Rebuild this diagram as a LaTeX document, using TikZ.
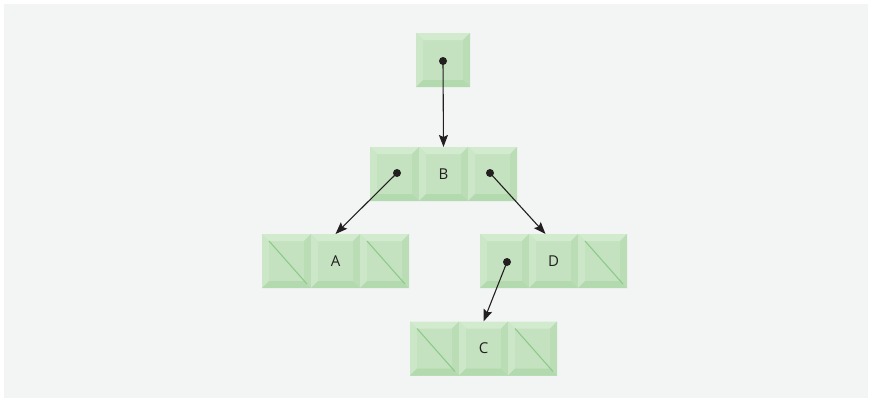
\documentclass[tikz,border=0pt]{standalone}
\usepackage{fontspec}
\setmainfont{Open Sans}
\usetikzlibrary{arrows.meta}
\definecolor{panel}{HTML}{F3F5F5}
\definecolor{face}{HTML}{C4E2BF}
\definecolor{bevtop}{HTML}{D2EBCE}
\definecolor{bevleft}{HTML}{CBE7C7}
\definecolor{bevright}{HTML}{BADDB5}
\definecolor{bevbot}{HTML}{B3D9AE}
\definecolor{diagc}{HTML}{8DCA89}
\definecolor{ink}{HTML}{231F20}
\tikzset{
  cellbox/.style={minimum width=49pt, minimum height=54pt, inner sep=0pt, outer sep=0pt,
    fill=face, font=\fontsize{15pt}{17pt}\selectfont, text=ink,
    path picture={
      \coordinate (NW) at (path picture bounding box.north west);
      \coordinate (NE) at (path picture bounding box.north east);
      \coordinate (SW) at (path picture bounding box.south west);
      \coordinate (SE) at (path picture bounding box.south east);
      \fill[bevtop] (NW) -- (NE) -- ([xshift=-7pt,yshift=-7pt]NE) -- ([xshift=7pt,yshift=-7pt]NW) -- cycle;
      \fill[bevleft] (NW) -- (SW) -- ([xshift=7pt,yshift=7pt]SW) -- ([xshift=7pt,yshift=-7pt]NW) -- cycle;
      \fill[bevright] (NE) -- (SE) -- ([xshift=-7pt,yshift=7pt]SE) -- ([xshift=-7pt,yshift=-7pt]NE) -- cycle;
      \fill[bevbot] (SW) -- (SE) -- ([xshift=-7pt,yshift=7pt]SE) -- ([xshift=7pt,yshift=7pt]SW) -- cycle;
    }},
  bigcell/.style={cellbox, minimum width=54pt},
  diag/.style={draw=diagc, line width=1.1pt},
  dot/.style={circle, fill=ink, inner sep=0pt, minimum size=8pt},
  arr/.style={draw=ink, line width=1.1pt, -{Stealth[length=12pt,width=9pt,inset=2pt]}}
}
\newcommand{\nullline}[1]{\draw[diag] ([xshift=7pt,yshift=-7pt]#1.north west) -- ([xshift=-4pt,yshift=4pt]#1.south east);}
\begin{document}
\begin{tikzpicture}[x=1pt,y=-1pt]
  \fill[white] (0,0) rectangle (872,402);
  \fill[panel] (4,4) rectangle (868,398);
  \useasboundingbox (0,0) rectangle (872,402);
  % top pointer
  \node[bigcell] (t) at (443,60) {};
  % B row
  \node[cellbox] (b1) at (394.5,174) {};
  \node[cellbox] (b2) at (443.5,174) {B};
  \node[cellbox] (b3) at (492.5,174) {};
  % A row
  \node[cellbox] (a1) at (286.5,261) {};
  \node[cellbox] (a2) at (335.5,261) {A};
  \node[cellbox] (a3) at (384.5,261) {};
  % D row
  \node[cellbox] (d1) at (504.5,261) {};
  \node[cellbox] (d2) at (553.5,261) {D};
  \node[cellbox] (d3) at (602.5,261) {};
  % C row
  \node[cellbox] (c1) at (434.5,348.5) {};
  \node[cellbox] (c2) at (483.5,348.5) {C};
  \node[cellbox] (c3) at (532.5,348.5) {};
  % null links
  \nullline{a1}\nullline{a3}\nullline{d3}\nullline{c1}\nullline{c3}
  % dots
  \node[dot] (pt) at (443,61) {};
  \node[dot] (pb1) at (397,173) {};
  \node[dot] (pb3) at (490,173) {};
  \node[dot] (pd1) at (507,262) {};
  % arrows
  \draw[arr] (pt.center) -- (b2.north);
  \draw[arr] (pb1.center) -- (a2.north);
  \draw[arr] (pb3.center) -- ([xshift=-8pt]d2.north);
  \draw[arr] (pd1.center) -- (c2.north);
\end{tikzpicture}
\end{document}
